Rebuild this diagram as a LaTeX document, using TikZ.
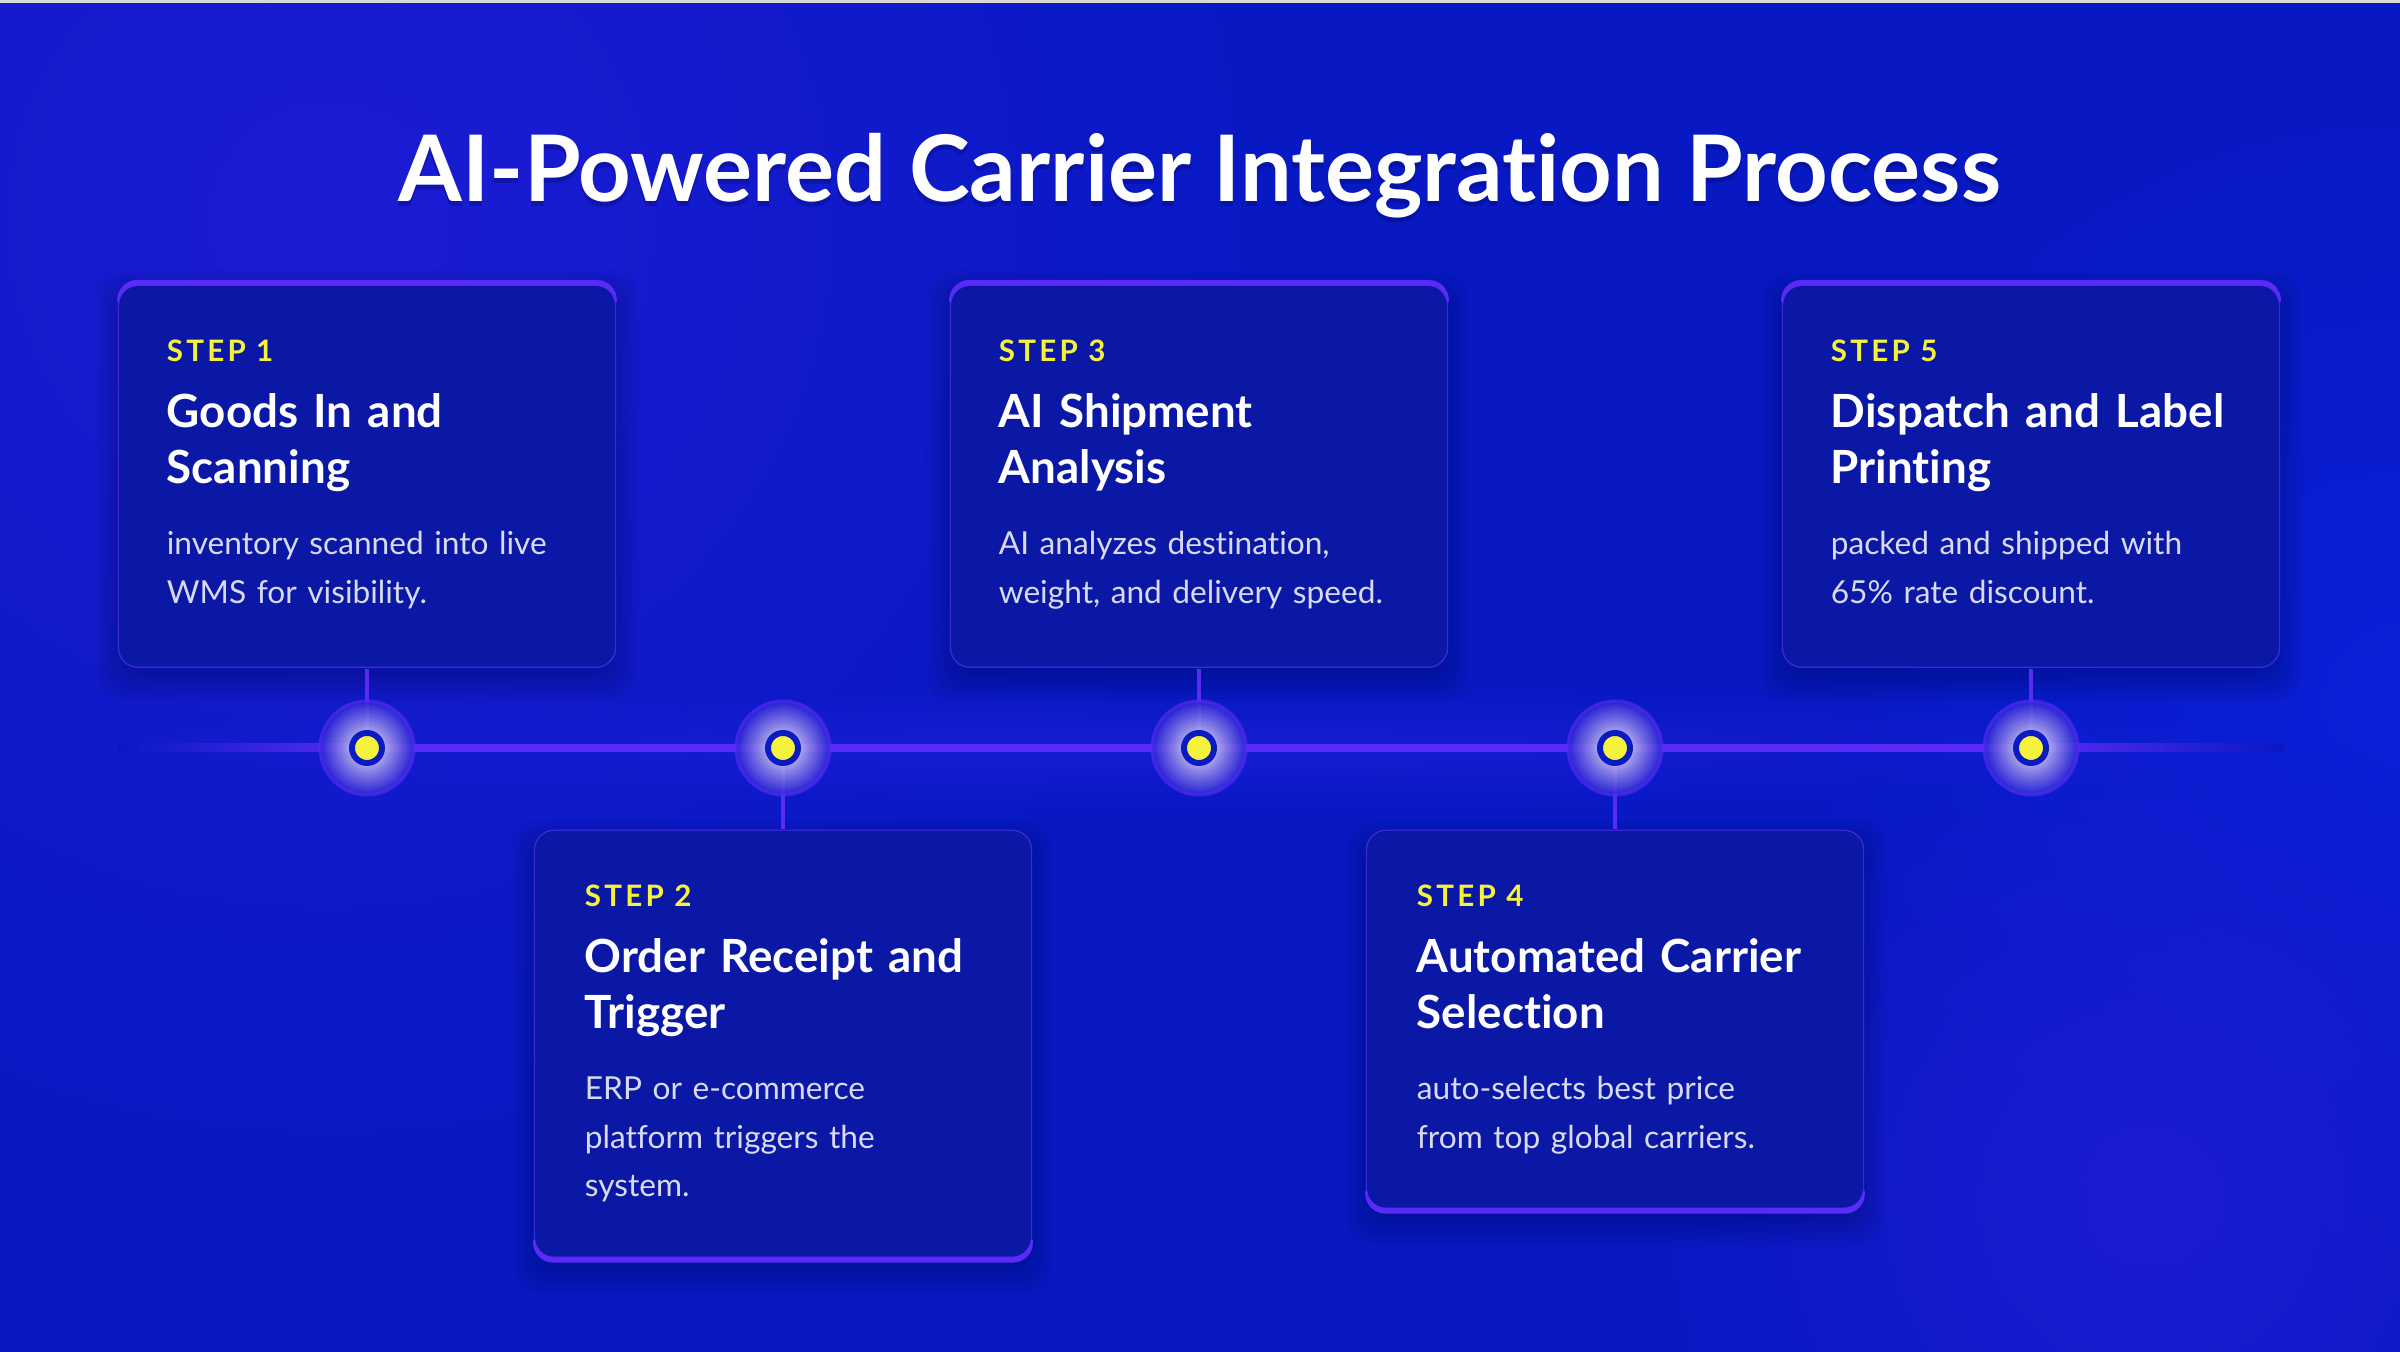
\documentclass[tikz,border=0pt]{standalone}
\usepackage{fontspec}
\setmainfont{Lato}[Ligatures={NoCommon}]
\usetikzlibrary{positioning,calc,fadings}

\definecolor{bgblue}{HTML}{0819C4}
\definecolor{bgviolet}{HTML}{1D1CD4}
\definecolor{bgbright}{HTML}{0A21D8}
\definecolor{bandblue}{HTML}{2020DC}
\definecolor{cardfill}{HTML}{0B18A5}
\definecolor{cardline}{HTML}{3A2ADD}
\definecolor{accent}{HTML}{5A2BF7}
\definecolor{stepyellow}{HTML}{F4F23A}
\definecolor{desctext}{HTML}{D8DAF2}
\definecolor{dotblue}{HTML}{0A1BC2}
\definecolor{shadownavy}{HTML}{020A6A}
\definecolor{glowin}{HTML}{C9C4EE}
\definecolor{glowmid}{HTML}{8F86EA}
\definecolor{glowout}{HTML}{2A22D6}

\pgfdeclareradialshading{dotglow}{\pgfpoint{0bp}{0bp}}%
  {color(0bp)=(glowin); color(8bp)=(glowin); color(14bp)=(glowmid); color(25bp)=(glowout); color(50bp)=(glowout)}
\tikzfading[name=bandfade, inner color=transparent!35, outer color=transparent!100]
\tikzfading[name=blobfade, inner color=transparent!0, outer color=transparent!100]

\pgfdeclarelayer{back}
\pgfsetlayers{back,main}

\begin{document}
\begin{tikzpicture}[x=0.01cm,y=0.01cm,
  title/.style={anchor=base, inner sep=0pt, text=white, font=\fontsize{26.1}{30}\selectfont\bfseries},
  card/.style={rectangle, rounded corners=0.2cm, fill=cardline, minimum width=4.98cm, inner sep=0pt, anchor=north},
  steplbl/.style={anchor=base west, inner sep=0pt, text=stepyellow, font=\fontsize{8.4}{9}\selectfont\bfseries\addfontfeature{LetterSpace=11}},
  headline/.style={anchor=base west, inner sep=0pt, text=white, text width=4.4cm, align=left, font=\fontsize{13}{15.65}\selectfont\bfseries},
  desc/.style={anchor=base west, inner sep=0pt, text=desctext, text width=4.4cm, align=left, font=\fontsize{9}{13.66}\selectfont},
  halo/.style={circle, minimum size=0.94cm, inner sep=0pt, shade, shading=dotglow, fill opacity=.85, draw=accent, draw opacity=.6, line width=0.85pt},
  dot/.style={circle, minimum size=0.3cm, inner sep=0pt, fill=stepyellow, draw=dotblue, line width=1.7pt},
  link/.style={accent, line width=1pt},
]
\useasboundingbox (0,0) rectangle (2400,1352);

% title
\node[title, text=shadownavy, opacity=.35] (titleshadow) at (1200,1145) {AI-Powered Carrier Integration Process};
\node[title] (title) at (1200,1150) {AI-Powered Carrier Integration Process};

% cards above the line
\node[card, minimum height=3.87cm] (c1) at (367,1072) {};
\node[card, minimum height=3.87cm] (c3) at (1199,1072) {};
\node[card, minimum height=3.87cm] (c5) at (2031,1072) {};
% cards below the line
\node[card, minimum height=4.32cm] (c2) at (783,523) {};
\node[card, minimum height=3.83cm] (c4) at (1615,523) {};

% accent edge on top
\foreach \c in {c1,c3,c5}{
  \begin{scope}
    \clip ($(\c.north west)+(0,-22)$) rectangle (\c.north east);
    \fill[accent, rounded corners=0.2cm] (\c.south west) rectangle (\c.north east);
  \end{scope}
  \fill[cardfill, rounded corners=0.19cm] ($(\c.south west)+(2,2)$) rectangle ($(\c.north east)+(-2,-6)$);
}
% accent edge at the bottom
\foreach \c in {c2,c4}{
  \begin{scope}
    \clip (\c.south west) rectangle ($(\c.south east)+(0,22)$);
    \fill[accent, rounded corners=0.2cm] (\c.south west) rectangle (\c.north east);
  \end{scope}
  \fill[cardfill, rounded corners=0.19cm] ($(\c.south west)+(2,6)$) rectangle ($(\c.north east)+(-2,-2)$);
}

% card texts
\node[steplbl] (s1) at ($(c1.north west)+(49,-82)$) {STEP 1};
\node[headline] (h1) at ($(s1.base west)+(0,-66)$) {Goods In and\\Scanning};
\node[desc] (t1) at ($(h1.base west)+(0,-127)$) {inventory scanned into live\\WMS for visibility.};

\node[steplbl] (s2) at ($(c2.north west)+(51,-78)$) {STEP 2};
\node[headline] (h2) at ($(s2.base west)+(0,-66)$) {Order Receipt and\\Trigger};
\node[desc] (t2) at ($(h2.base west)+(0,-127)$) {ERP or e-commerce\\platform triggers the\\system.};

\node[steplbl] (s3) at ($(c3.north west)+(49,-82)$) {STEP 3};
\node[headline] (h3) at ($(s3.base west)+(0,-66)$) {AI Shipment\\Analysis};
\node[desc] (t3) at ($(h3.base west)+(0,-127)$) {AI analyzes destination,\\weight, and delivery speed.};

\node[steplbl] (s4) at ($(c4.north west)+(51,-78)$) {STEP 4};
\node[headline] (h4) at ($(s4.base west)+(0,-66)$) {Automated Carrier\\Selection};
\node[desc] (t4) at ($(h4.base west)+(0,-127)$) {auto-selects best price\\from top global carriers.};

\node[steplbl] (s5) at ($(c5.north west)+(49,-82)$) {STEP 5};
\node[headline] (h5) at ($(s5.base west)+(0,-66)$) {Dispatch and Label\\Printing};
\node[desc] (t5) at ($(h5.base west)+(0,-127)$) {packed and shipped with\\65\% rate discount.};

% timeline dots
\foreach \i/\x in {1/367,2/783,3/1199,4/1615,5/2031}{
  \node[halo] (g\i) at (\x,604) {};
  \node[dot] (d\i) at (\x,604) {};
}
\coordinate (tl0) at (118,604);
\coordinate (tl6) at (2284,604);

\begin{pgfonlayer}{back}
  % background
  \begin{scope}
    \clip (0,0) rectangle (2400,1352);
    \fill[bgblue] (0,0) rectangle (2400,1352);
    \fill[bgviolet, path fading=blobfade] (330,1130) circle (950);
    \fill[bgbright, path fading=blobfade] (2400,650) circle (600);
    \fill[bgviolet, path fading=blobfade] (2150,150) circle (500);
    \fill[black!15] (0,1349) rectangle (2400,1352);
  \end{scope}
  % card shadows
  \foreach \c in {c1,c2,c3,c4,c5}{
    \foreach \k in {0,...,7}{
      \pgfmathsetmacro\e{4*\k-6}
      \fill[shadownavy, opacity=.06, rounded corners=0.25cm]
        ($(\c.south west)+(-\e,-12-\e)$) rectangle ($(\c.north east)+(\e,-12+\e)$);
    }
  }
  % line and connectors
  \fill[bandblue, path fading=bandfade] (1200,604) ellipse (1150 and 60);
  \draw[accent, line width=2.3pt] (d1) -- (d5);
  \shade[left color=bgblue, right color=accent] ($(tl0)+(0,-4)$) rectangle ($(d1.center)+(0,4)$);
  \shade[left color=accent, right color=bgblue] ($(d5.center)+(0,-4)$) rectangle ($(tl6)+(0,4)$);
  \draw[link] (c1.south) -- (d1);
  \draw[link] (c3.south) -- (d3);
  \draw[link] (c5.south) -- (d5);
  \draw[link] (d2) -- (c2.north);
  \draw[link] (d4) -- (c4.north);
\end{pgfonlayer}
\end{tikzpicture}
\end{document}
